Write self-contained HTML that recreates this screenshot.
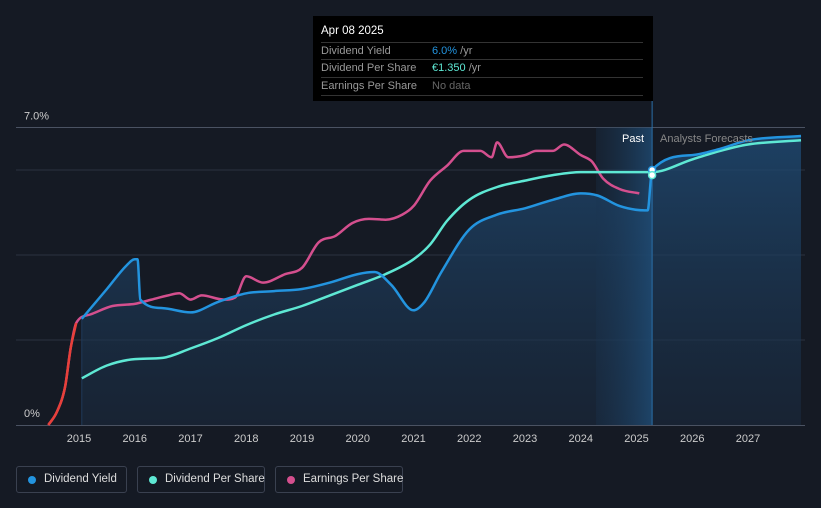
<!DOCTYPE html>
<html><head><meta charset="utf-8"><style>
body{margin:0;background:#151a24;font-family:"Liberation Sans",sans-serif;}
#wrap{position:relative;width:821px;height:508px;overflow:hidden;background:#151a24;}
.tt{position:absolute;left:313px;top:16px;width:340px;height:85px;background:#000;color:#fff;font-size:11px;}
.tt .r{position:absolute;left:8px;width:322px;border-top:1px solid #333;height:17px;line-height:17px;color:#999;}
.leg{position:absolute;top:466px;height:27px;border:1px solid #3a4150;border-radius:3px;color:#ddd;font-size:11.5px;line-height:25px;box-sizing:border-box;padding-left:27px;white-space:nowrap;}
.leg i{position:absolute;left:11px;top:9px;width:8px;height:8px;border-radius:50%;}
</style></head><body>
<div id="wrap">
<svg id="svg" width="821" height="508" style="position:absolute;left:0;top:0"></svg>
<div class="tt">
<div style="position:absolute;left:8px;top:9px;font-size:11.5px">Apr 08 2025</div>
<div class="r" style="top:26px">Dividend Yield<span style="position:absolute;left:111px"><span style="color:#2394df">6.0%</span> /yr</span></div>
<div class="r" style="top:43px">Dividend Per Share<span style="position:absolute;left:111px"><span style="color:#5ee8d4">€1.350</span> /yr</span></div>
<div class="r" style="top:61px;border-bottom:1px solid #333">Earnings Per Share<span style="position:absolute;left:111px;color:#666">No data</span></div>
</div>
<div class="leg" style="left:16px;width:111px"><i style="background:#2394df"></i>Dividend Yield</div>
<div class="leg" style="left:137px;width:128px"><i style="background:#5ee8d4"></i>Dividend Per Share</div>
<div class="leg" style="left:275px;width:128px"><i style="background:#d44f8e"></i>Earnings Per Share</div>
</div>
<script>
const xTicks=[2015,2016,2017,2018,2019,2020,2021,2022,2023,2024,2025,2026,2027];
const yTickLabels=["0%","7.0%"];
const yTickValues=[0,7];
const dyYears=[2015.05,2015.5,2015.85,2016,2016.05,2016.1,2016.5,2017,2017.5,2018,2018.5,2019,2019.5,2020,2020.3,2020.6,2021,2021.2,2021.5,2022,2022.5,2023,2023.5,2024,2024.3,2024.7,2025.15,2025.2,2025.28,2026,2026.5,2027,2027.95];
const dyVals=[2.5,3.2,3.75,3.9,3.9,2.95,2.75,2.65,2.9,3.1,3.15,3.2,3.35,3.55,3.6,3.3,2.7,2.9,3.6,4.6,4.95,5.1,5.3,5.45,5.4,5.15,5.05,5.05,6.0,6.35,6.5,6.7,6.8];
const dpsYears=[2015.05,2015.5,2016,2016.5,2017,2017.5,2018,2018.5,2019,2019.5,2020,2020.5,2021,2021.3,2021.6,2022,2022.5,2023,2023.5,2024,2024.5,2025,2025.28,2026,2026.5,2027,2027.95];
const dpsVals=[1.1,1.4,1.55,1.58,1.8,2.05,2.35,2.6,2.8,3.05,3.3,3.55,3.9,4.25,4.8,5.3,5.6,5.75,5.88,5.95,5.95,5.95,5.95,6.25,6.45,6.6,6.7];
const epsYears=[2014.45,2014.6,2014.75,2014.85,2014.95,2015.2,2015.6,2016,2016.3,2016.6,2016.8,2017,2017.2,2017.6,2017.8,2018,2018.3,2018.7,2019,2019.3,2019.6,2019.9,2020.2,2020.5,2020.8,2021,2021.3,2021.6,2021.9,2022.2,2022.4,2022.5,2022.7,2023,2023.2,2023.5,2023.7,2024,2024.2,2024.4,2024.7,2025.05];
const epsVals=[0,0.3,0.9,1.8,2.4,2.6,2.8,2.85,2.95,3.05,3.1,2.95,3.05,2.95,3.0,3.5,3.35,3.55,3.7,4.3,4.45,4.75,4.85,4.83,4.95,5.15,5.75,6.1,6.45,6.45,6.3,6.65,6.3,6.35,6.45,6.45,6.6,6.35,6.2,5.8,5.55,5.45];
const X=y=>79+(y-2015)*55.75, Y=v=>425-v*42.5;
const svg=document.getElementById('svg'),NS='http://www.w3.org/2000/svg';
function el(t,a,p){const e=document.createElementNS(NS,t);for(const k in a)e.setAttribute(k,a[k]);(p||svg).appendChild(e);return e;}
function path(xs,vs){
  const px=xs.map(X),py=vs.map(Y),n=px.length;
  if(n<3)return px.map((x,i)=>(i?'L':'M')+x+','+py[i]).join('');
  const d=[],m=[];
  for(let i=0;i<n-1;i++)d.push((py[i+1]-py[i])/(px[i+1]-px[i]));
  m[0]=d[0];m[n-1]=d[n-2];
  for(let i=1;i<n-1;i++){m[i]=(d[i-1]*d[i]<=0)?0:(d[i-1]+d[i])/2;}
  for(let i=0;i<n-1;i++){if(d[i]===0){m[i]=m[i+1]=0;continue;}const a=m[i]/d[i],b=m[i+1]/d[i],s=a*a+b*b;if(s>9){const t=3/Math.sqrt(s);m[i]=t*a*d[i];m[i+1]=t*b*d[i];}}
  let s='M'+px[0].toFixed(1)+','+py[0].toFixed(1);
  for(let i=0;i<n-1;i++){const h=(px[i+1]-px[i])/3;s+='C'+(px[i]+h).toFixed(1)+','+(py[i]+m[i]*h).toFixed(1)+' '+(px[i+1]-h).toFixed(1)+','+(py[i+1]-m[i+1]*h).toFixed(1)+' '+px[i+1].toFixed(1)+','+py[i+1].toFixed(1);}
  return s;
}
const defs=el('defs',{});
const g=el('linearGradient',{id:'fg',x1:0,y1:0,x2:0,y2:1},defs);
el('stop',{offset:0,'stop-color':'#1f4a73','stop-opacity':0.8},g);el('stop',{offset:1,'stop-color':'#1a2c42','stop-opacity':0.5},g);
const g2=el('linearGradient',{id:'pb',x1:0,y1:0,x2:1,y2:0},defs);
el('stop',{offset:0,'stop-color':'#1a3450','stop-opacity':0.3},g2);el('stop',{offset:1,'stop-color':'#1f4c75','stop-opacity':0.8},g2);
[2,4,6].forEach(v=>{const l=el('line',{x1:16,x2:805,y1:Y(v),y2:Y(v),stroke:'#2b3240','stroke-width':1});});
const topLine=el('line',{x1:16,x2:805,y1:Y(7),y2:Y(7),stroke:'#4a5262','stroke-width':1});
const baseLine=el('line',{x1:16,x2:805,y1:425.5,y2:425.5,stroke:'#4a5262','stroke-width':1});
const ap=path(dyYears,dyVals)+'L'+X(dyYears[dyYears.length-1])+',425L'+X(dyYears[0])+',425Z';
const area=el('path',{d:ap,fill:'url(#fg)'});
const past=el('rect',{x:596,y:Y(7),width:X(2025.28)-596,height:425-Y(7),fill:'url(#pb)'});
const vl=el('line',{x1:X(2025.28),x2:X(2025.28),y1:101,y2:425,stroke:'#2a6fa8','stroke-width':1});
const el1=el('line',{x1:X(2015.05),x2:X(2015.05),y1:Y(2.5),y2:425,stroke:'#1f3a5a','stroke-width':1});
const ep=el('path',{d:path(epsYears,epsVals),fill:'none',stroke:'#d44f8e','stroke-width':2.5});
const er=el('path',{d:path(epsYears.slice(0,5),epsVals.slice(0,5)),fill:'none',stroke:'#e8403a','stroke-width':2.5});
const dp=el('path',{d:path(dpsYears,dpsVals),fill:'none',stroke:'#5ee8d4','stroke-width':2.5});
const dy=el('path',{d:path(dyYears,dyVals),fill:'none',stroke:'#2394df','stroke-width':2.5});
const m1=el('circle',{cx:X(2025.28),cy:Y(6.0),r:3.5,fill:'#fff',stroke:'#2394df','stroke-width':1.5});
const m2=el('circle',{cx:X(2025.28),cy:Y(5.95)+3,r:3.5,fill:'#fff',stroke:'#5ee8d4','stroke-width':1.5});
xTicks.forEach(t=>{const e=el('text',{x:X(t),y:442,fill:'#ccc','font-size':11,'text-anchor':'middle'});e.textContent=t;});
yTickValues.forEach((v,i)=>{const e=el('text',{x:24,y:v?Y(v)-8:417,fill:'#ccc','font-size':11});e.textContent=yTickLabels[i];});
const pl=el('text',{x:644,y:142,fill:'#fff','font-size':11,'text-anchor':'end'});pl.textContent='Past';
const fl=el('text',{x:660,y:142,fill:'#888','font-size':11});fl.textContent='Analysts Forecasts';
</script>
</body></html>
